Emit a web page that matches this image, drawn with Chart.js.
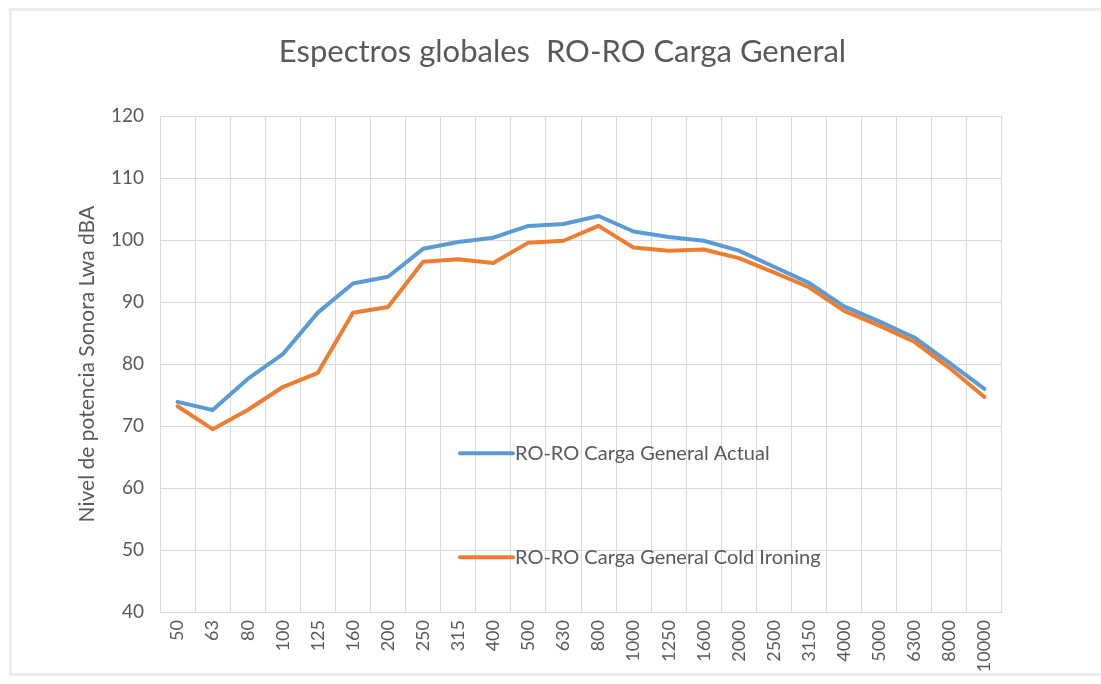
<!DOCTYPE html>
<html>
<head>
<meta charset="utf-8">
<script src="https://cdn.jsdelivr.net/npm/chart.js@4"></script>
<style>
  html, body { margin: 0; padding: 0; background: #fff; }
  #frame { position: absolute; left: 9px; top: 8px; width: 1120px; height: 668px; border: 3px solid #ececec; box-sizing: border-box; }
  #wrap { position: absolute; left: 0; top: 0; width: 1101px; height: 684px; }
</style>
</head>
<body>
<div id="frame"></div>
<div id="wrap"><canvas id="chart" width="1101" height="684"></canvas></div>
<script>
// frequency bands (Hz)
var bands = ['50','63','80','100','125','160','200','250','315','400','500','630','800',
             '1000','1250','1600','2000','2500','3150','4000','5000','6300','8000','10000'];

// sound power level Lwa dBA
var actual = [73.9, 72.6, 77.6, 81.6, 88.3, 93.0, 94.1, 98.6, 99.7, 100.4, 102.3, 102.6, 103.9,
              101.4, 100.5, 99.9, 98.3, 95.7, 93.1, 89.3, 86.9, 84.3, 80.2, 76.0];
var coldIroning = [73.2, 69.5, 72.6, 76.3, 78.6, 88.3, 89.2, 96.5, 96.9, 96.3, 99.6, 99.9, 102.3,
                   98.8, 98.3, 98.5, 97.1, 94.8, 92.4, 88.6, 86.2, 83.6, 79.4, 74.7];

var yTicks = [40, 50, 60, 70, 80, 90, 100, 110, 120];

var seriesNames = ['RO-RO Carga General Actual', 'RO-RO Carga General Cold Ironing'];
var seriesColors = ['#5b9bd5', '#ed7d31'];

var textColor = '#595959';
var gridColor = '#d9d9d9';
var fontFamily = 'Lato, "Open Sans", sans-serif';

// legend sits inside the plot area, like the Excel original
var inPlotLegend = {
    id: 'inPlotLegend',
    afterDatasetsDraw: function(chart){
        var ctx = chart.ctx;
        var area = chart.chartArea;
        var offsets = [337, 441];
        ctx.save();
        chart.data.datasets.forEach(function(ds, i){
            var x = area.left + 300;
            var y = area.top + offsets[i];
            ctx.strokeStyle = ds.borderColor;
            ctx.lineWidth = 4;
            ctx.lineCap = 'round';
            ctx.beginPath();
            ctx.moveTo(x, y);
            ctx.lineTo(x + 53, y);
            ctx.stroke();
            ctx.fillStyle = textColor;
            ctx.font = '20px ' + fontFamily;
            ctx.textBaseline = 'middle';
            ctx.textAlign = 'left';
            ctx.fillText(ds.label, x + 55, y);
        });
        ctx.restore();
    }
};

var ctx = document.getElementById('chart').getContext('2d');
var chart = new Chart(ctx, {
    type: 'line',
    data: {
        labels: bands,
        datasets: [
            {
                label: seriesNames[0],
                data: actual,
                borderColor: seriesColors[0],
                backgroundColor: seriesColors[0],
                borderWidth: 4,
                pointRadius: 0,
                borderJoinStyle: 'round',
                borderCapStyle: 'round',
                order: 1
            },
            {
                label: seriesNames[1],
                data: coldIroning,
                borderColor: seriesColors[1],
                backgroundColor: seriesColors[1],
                borderWidth: 4,
                pointRadius: 0,
                borderJoinStyle: 'round',
                borderCapStyle: 'round',
                order: 0
            }
        ]
    },
    options: {
        responsive: false,
        animation: false,
        devicePixelRatio: 1,
        layout: {
            padding: { left: 24, right: 0, top: 0, bottom: 0 }
        },
        scales: {
            x: {
                offset: true,
                grid: {
                    offset: true,
                    color: gridColor,
                    drawTicks: false
                },
                border: { color: gridColor },
                ticks: {
                    autoSkip: false,
                    maxRotation: 90,
                    minRotation: 90,
                    padding: 8,
                    color: textColor,
                    font: { family: fontFamily, size: 18 }
                },
                afterFit: function(scale){
                    scale.height = 72;
                    scale.paddingLeft = 0;
                    scale.paddingRight = 0;
                }
            },
            y: {
                min: yTicks[0],
                max: yTicks[yTicks.length - 1],
                afterBuildTicks: function(scale){
                    scale.ticks = yTicks.map(function(v){ return { value: v }; });
                },
                grid: {
                    color: gridColor,
                    drawTicks: false
                },
                border: { display: false },
                ticks: {
                    padding: 16,
                    color: textColor,
                    font: { family: fontFamily, size: 19 }
                },
                title: {
                    display: true,
                    text: 'Nivel de potencia Sonora Lwa dBA',
                    color: textColor,
                    font: { family: fontFamily, size: 21 },
                    padding: { top: 51, bottom: 0 }
                },
                afterFit: function(scale){
                    scale.width = 136;
                    scale.paddingTop = 0;
                    scale.paddingBottom = 0;
                }
            },
            // empty right-hand strip so the plot ends where the original does
            yRight: {
                position: 'right',
                min: yTicks[0],
                max: yTicks[yTicks.length - 1],
                grid: { display: false, drawOnChartArea: false },
                border: { display: false },
                ticks: { display: false },
                afterFit: function(scale){
                    scale.width = 99;
                    scale.paddingTop = 0;
                    scale.paddingBottom = 0;
                }
            }
        },
        plugins: {
            legend: { display: false },
            tooltip: { enabled: false },
            title: {
                display: true,
                text: 'Espectros globales  RO-RO Carga General',
                color: textColor,
                font: { family: fontFamily, size: 31, weight: 'normal' },
                padding: { top: 33, bottom: 46 }
            }
        }
    },
    plugins: [inPlotLegend]
});
</script>
</body>
</html>
